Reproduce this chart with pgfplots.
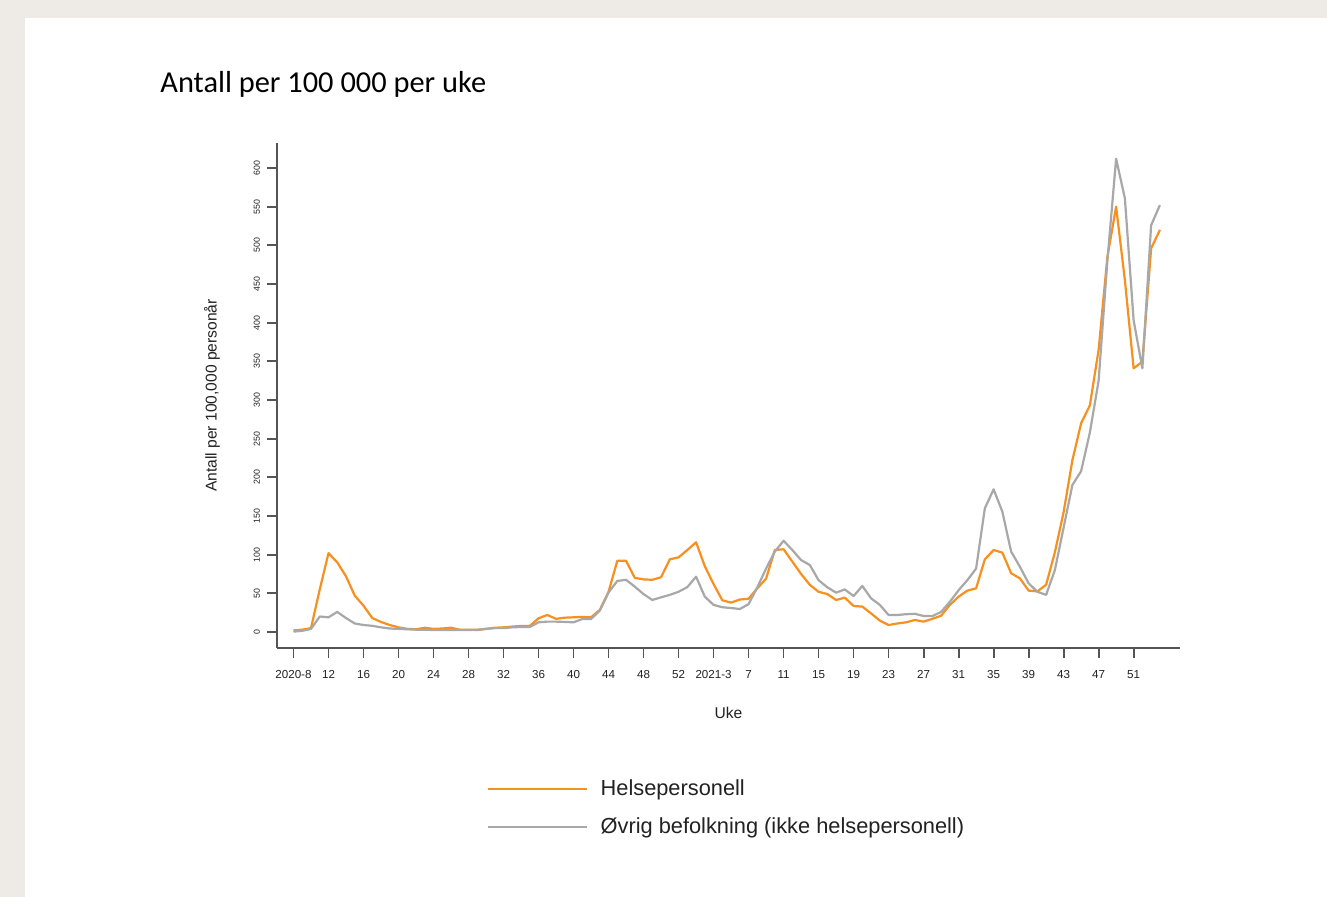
\documentclass[border=0pt]{standalone}
\usepackage{fontspec}
\setmainfont{Liberation Sans}
\newfontfamily\titlefont{Carlito}
\usepackage{pgfplots}
\pgfplotsset{compat=1.18}
\usepackage{pgfplotstable}

\definecolor{pagebg}{HTML}{EEEBE6}
\definecolor{helse}{HTML}{F7901E}
\definecolor{ovrig}{HTML}{A8A8A8}
\definecolor{axisgray}{HTML}{555555}
\definecolor{textdark}{HTML}{222222}

% Weekly incidence per 100 000: i = week index from 2020-8,
% h = Helsepersonell, o = Øvrig befolkning
\pgfplotstableread{
i  h     o
0  2     0.5
1  3     1.5
2  5     4
3  55    20
4  102   19
5  90    26
6  72    18
7  47    11
8  34    9
9  18    8
10 13    6
11 9     4.5
12 6     4
13 4     3.5
14 3.5   3
15 5.5   3
16 4     2.5
17 4.5   2.5
18 5.5   2.5
19 3     2.5
20 3     2.5
21 2.5   3
22 4     4
23 5.5   5
24 6     5
25 7     6
26 7.8   6.5
27 7.8   6.5
28 17.7  12.5
29 22    13.4
30 17    13.4
31 18.5  13
32 19    12.5
33 19.4  16.8
34 19    16.8
35 28.5  27.6
36 52    51
37 92    66
38 92    67.5
39 70    58.6
40 68    49
41 67.5  41.4
42 70.8  44.8
43 94    48
44 96.5  52
45 106   58
46 116   71.5
47 85    45.7
48 62    35
49 41    32
50 38    31
51 42    29.7
52 43    36
53 56.5  57.8
54 69    82
55 106   104
56 107   118
57 91    106
58 75    93
59 61    86.6
60 52    67
61 49    57.8
62 41.4  50.9
63 44.4  55
64 33.6  46.5
65 32.8  59.5
66 24    43.5
67 14.7  35
68 9     22
69 11    22
70 12.5  23
71 15.5  23.5
72 13.4  20.7
73 17    20.5
74 21    26
75 35    39
76 45.7  54
77 53.5  67
78 56.5  82
79 94    160
80 106   184.5
81 102.6 155.6
82 76    104
83 69.4  84.5
84 53.5  63
85 52.5  52
86 61    48
87 103   80
88 155   135
89 222   190
90 270   208
91 293   258
92 365   325
93 485   480
94 550   612
95 455   561
96 341   403
97 349.5 341
98 496   526
99 520   552
}\ukedata

\begin{document}
\begin{tikzpicture}
% slide background and white content panel (1 px = 0.5 pt)
\fill[pagebg] (0pt,0pt) rectangle (663.5pt,448.5pt);
\fill[white] (12.5pt,0pt) rectangle (663.5pt,439.5pt);
\node[anchor=west, inner sep=0pt, text=black,
      font=\titlefont\fontsize{15.2}{18}\selectfont] at (80pt,406.5pt)
      {Antall per 100 000 per uke};
\begin{axis}[
  at={(138.5pt,124.5pt)}, anchor=south west,
  scale only axis, width=451.5pt, height=252.5pt,
  xmin=-1.886, xmax=101.3, ymin=-20.7, ymax=632.4,
  axis x line*=bottom, axis y line*=left,
  axis line style={axisgray, line width=1.1pt, -},
  tick align=outside, major tick length=5pt,
  tick style={axisgray, line width=0.9pt},
  xtick={0,4,...,96},
  xticklabels={2020-8,12,16,20,24,28,32,36,40,44,48,52,2021-3,7,11,15,19,23,27,31,35,39,43,47,51},
  ytick={0,50,...,600},
  /pgf/number format/assume math mode=true,
  xticklabel style={font=\fontsize{5.8}{7}\selectfont, text=textdark, yshift=-2.5pt},
  yticklabel style={font=\fontsize{4.4}{6}\selectfont, text=textdark, rotate=90, anchor=south},
  xlabel={Uke},
  ylabel={Antall per 100,000 personår},
  xlabel style={font=\fontsize{7.8}{9}\selectfont, text=textdark,
                at={(axis description cs:0.5,-0.1287)}, anchor=center},
  ylabel style={font=\fontsize{7.8}{9}\selectfont, text=textdark,
                at={(axis description cs:-0.072,0.5)}, anchor=center},
  legend style={at={(axis description cs:0.2315,-0.2525)}, anchor=north west,
                draw=none, fill=none, inner sep=0pt,
                font=\fontsize{10.9}{13}\selectfont, text=textdark,
                row sep=5.5pt, column sep=4.5pt},
  legend cell align=left,
  legend image code/.code={\draw[#1] (0pt,0pt) -- (49.5pt,0pt);},
]
\addplot[helse, line width=1.1pt, line join=round, no markers]
  table[x=i, y=h]{\ukedata};
\addlegendentry{Helsepersonell}
\addplot[ovrig, line width=1.1pt, line join=round, no markers]
  table[x=i, y=o]{\ukedata};
\addlegendentry{Øvrig befolkning (ikke helsepersonell)}
\end{axis}
\end{tikzpicture}
\end{document}
